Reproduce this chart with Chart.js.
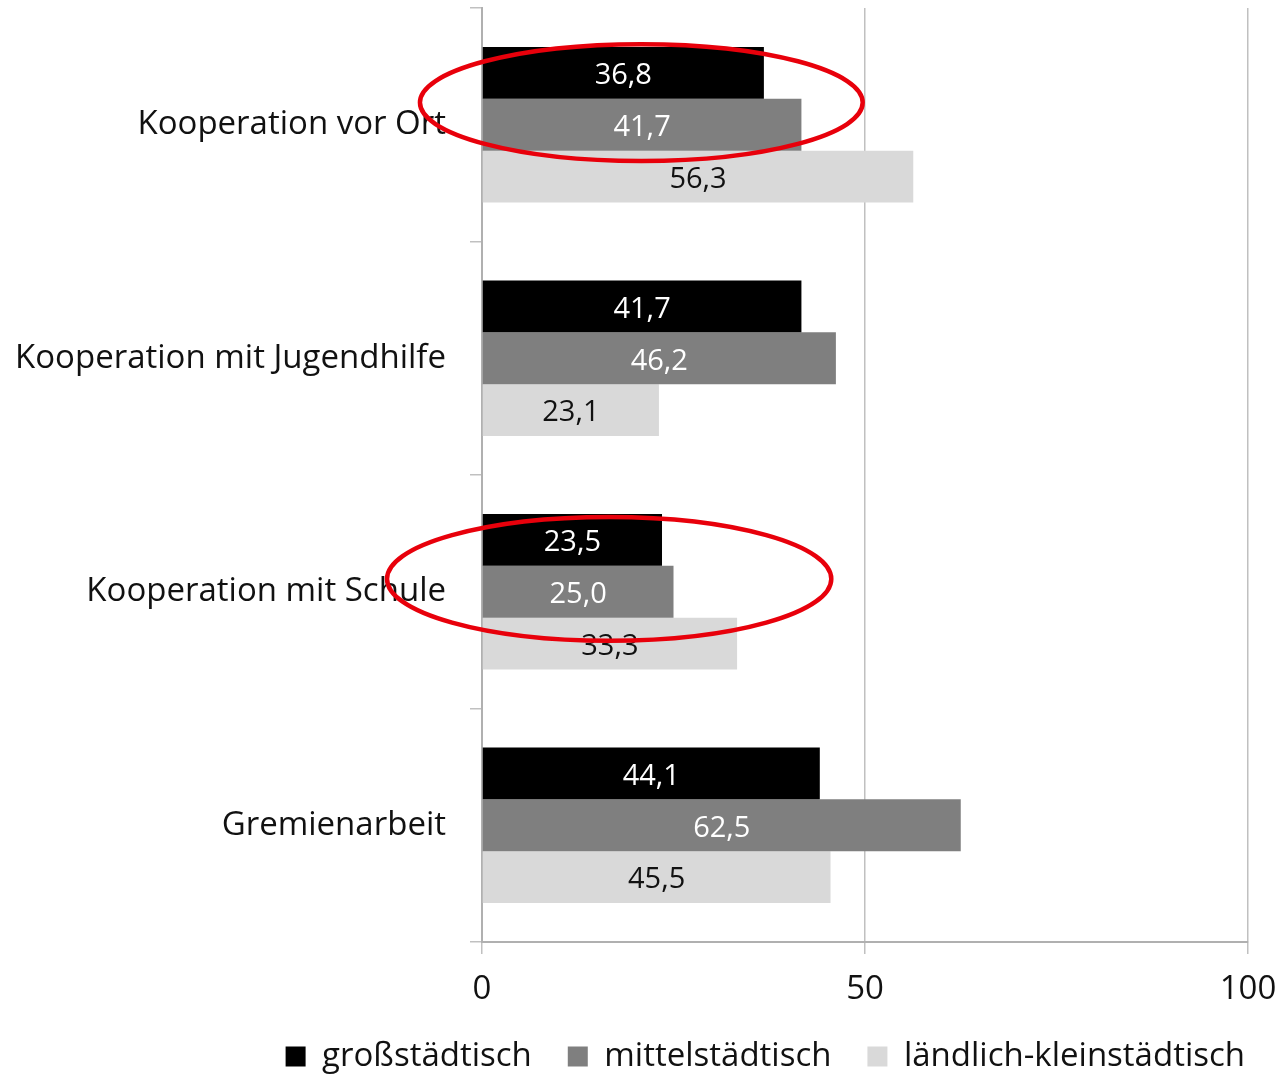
<!DOCTYPE html>
<html>
<head>
<meta charset="utf-8">
<script src="https://cdn.jsdelivr.net/npm/chart.js@4.4.0/dist/chart.umd.min.js"></script>
<style>
  body { margin: 0; background: #fff; }
  #wrap { width: 1281px; height: 1076px; }
</style>
</head>
<body>
<div id="wrap"><canvas id="kooperation-chart"></canvas></div>
<script>
// categories and values (percent)
var categories = ["Kooperation vor Ort", "Kooperation mit Jugendhilfe", "Kooperation mit Schule", "Gremienarbeit"];
var grossstaedtisch = [36.8, 41.7, 23.5, 44.1];
var mittelstaedtisch = [41.7, 46.2, 25.0, 62.5];
var laendlich = [56.3, 23.1, 33.3, 45.5];
var seriesNames = ["großstädtisch", "mittelstädtisch", "ländlich-kleinstädtisch"];
var xTicks = [0, 50, 100];

var fontFamily = "'Open Sans', Lato, sans-serif";

// labels inside the bars, german decimal comma
var barLabels = {
    id: 'barLabels',
    afterDatasetsDraw: function (chart) {
        var ctx = chart.ctx;
        ctx.save();
        ctx.font = "29px " + fontFamily;
        ctx.textAlign = 'center';
        ctx.textBaseline = 'middle';
        chart.data.datasets.forEach(function (ds, i) {
            var meta = chart.getDatasetMeta(i);
            meta.data.forEach(function (bar, j) {
                ctx.fillStyle = ds.labelColor;
                var text = ds.data[j].toFixed(1).replace('.', ',');
                ctx.fillText(text, (bar.x + bar.base) / 2, bar.y + 3);
            });
        });
        ctx.restore();
    }
};

// red highlight ellipses (annotation)
var highlights = [
    { value: 20.8, index: -0.095, rx: 28.9, ry: 0.25 },
    { value: 16.6, index: 1.945, rx: 29.0, ry: 0.265 }
];
var highlightEllipses = {
    id: 'highlightEllipses',
    afterDraw: function (chart) {
        var ctx = chart.ctx;
        var x = chart.scales.x, y = chart.scales.y;
        var band = y.getPixelForValue(1) - y.getPixelForValue(0);
        ctx.save();
        ctx.strokeStyle = '#e8000b';
        ctx.lineWidth = 4.5;
        highlights.forEach(function (h) {
            var cx = x.getPixelForValue(h.value);
            var cy = y.getPixelForValue(h.index);
            var rx = x.getPixelForValue(h.rx) - x.getPixelForValue(0);
            ctx.beginPath();
            ctx.ellipse(cx, cy, rx, h.ry * band, 0, 0, Math.PI * 2);
            ctx.stroke();
        });
        ctx.restore();
    }
};

var chart = new Chart(document.querySelector("#kooperation-chart"), {
    type: 'bar',
    data: {
        labels: categories,
        datasets: [
            { label: seriesNames[0], data: grossstaedtisch, backgroundColor: '#000000', labelColor: '#ffffff' },
            { label: seriesNames[1], data: mittelstaedtisch, backgroundColor: '#7f7f7f', labelColor: '#ffffff' },
            { label: seriesNames[2], data: laendlich, backgroundColor: '#d9d9d9', labelColor: '#111111' }
        ]
    },
    options: {
        indexAxis: 'y',
        responsive: true,
        maintainAspectRatio: false,
        animation: false,
        datasets: {
            bar: { categoryPercentage: 0.667, barPercentage: 1.0 }
        },
        layout: { padding: { top: 8, right: 0, left: 0, bottom: -7 } },
        scales: {
            x: {
                min: 0,
                max: 100,
                afterBuildTicks: function (scale) {
                    scale.ticks = xTicks.map(function (v) { return { value: v }; });
                },
                grid: { color: '#c0c0c0', lineWidth: 1.5, tickLength: 12, drawTicks: true },
                border: { color: '#b0b0b0', width: 2 },
                ticks: { color: '#111', font: { size: 33, family: fontFamily }, padding: 16 },
                afterFit: function (scale) {
                    scale.height = 62;
                    scale.paddingRight = 33;
                    scale.paddingLeft = 0;
                }
            },
            y: {
                grid: { offset: true, drawOnChartArea: false, color: '#c0c0c0', lineWidth: 1.5, tickLength: 12 },
                border: { color: '#b0b0b0', width: 2 },
                ticks: { color: '#111', font: { size: 33, family: fontFamily }, padding: 24 },
                afterFit: function (scale) {
                    scale.width = 482;
                    scale.paddingTop = 0;
                    scale.paddingBottom = 0;
                }
            }
        },
        plugins: {
            legend: {
                position: 'bottom',
                align: 'end',
                labels: {
                    color: '#111',
                    font: { size: 33, family: fontFamily },
                    boxWidth: 20,
                    boxHeight: 20,
                    padding: 36,
                    useBorderRadius: false
                }
            },
            tooltip: { enabled: false }
        }
    },
    plugins: [barLabels, highlightEllipses]
});
</script>
</body>
</html>
